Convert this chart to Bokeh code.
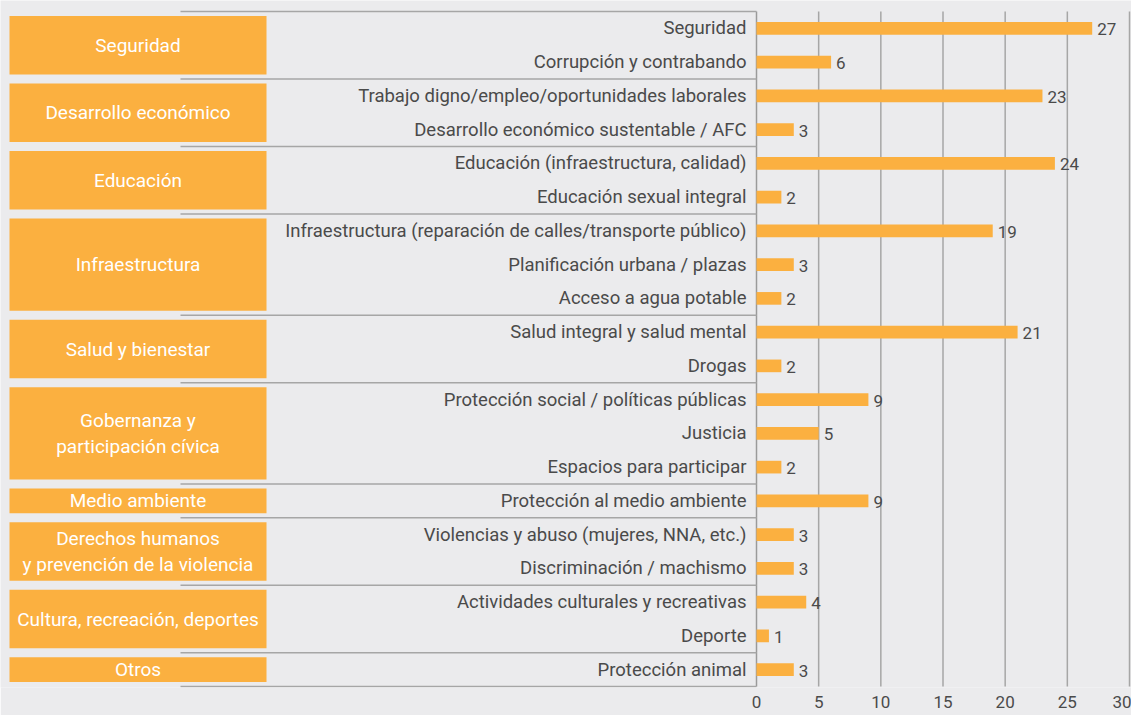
from bokeh.plotting import figure
from bokeh.models import Range1d, FixedTicker, ColumnDataSource, LinearAxis
from bokeh.core.properties import value
from bokeh.embed import file_html
from bokeh.resources import INLINE

# ---------------- data ----------------
categories = [
    "Seguridad",
    "Corrupción y contrabando",
    "Trabajo digno/empleo/oportunidades laborales",
    "Desarrollo económico sustentable / AFC",
    "Educación (infraestructura, calidad)",
    "Educación sexual integral",
    "Infraestructura (reparación de calles/transporte público)",
    "Planificación urbana / plazas",
    "Acceso a agua potable",
    "Salud integral y salud mental",
    "Drogas",
    "Protección social / políticas públicas",
    "Justicia",
    "Espacios para participar",
    "Protección al medio ambiente",
    "Violencias y abuso (mujeres, NNA, etc.)",
    "Discriminación / machismo",
    "Actividades culturales y recreativas",
    "Deporte",
    "Protección animal",
]
values = [27, 6, 23, 3, 24, 2, 19, 3, 2, 21, 2, 9, 5, 2, 9, 3, 3, 4, 1, 3]

group_names = [
    "Seguridad",
    "Desarrollo económico",
    "Educación",
    "Infraestructura",
    "Salud y bienestar",
    "Gobernanza y\nparticipación cívica",
    "Medio ambiente",
    "Derechos humanos\ny prevención de la violencia",
    "Cultura, recreación, deportes",
    "Otros",
]
group_sizes = [2, 2, 2, 3, 2, 3, 1, 2, 2, 1]

x_ticks = [0, 5, 10, 15, 20, 25, 30]

# ---------------- style / layout ----------------
BG = "#ebebed"
ORANGE = "#fbb040"
LINE = "#a6a6a6"
TEXT = "#4a4a4a"
FONT = "Roboto"

W, H = 1131, 715
X0_PX = 756.0                       # x pixel of value 0
SCALE = (1129.0 - 756.0) / 30.0     # px per unit
ROW_PX = 33.75
TOP_PX = 11.0
AXIS_BOTTOM = 28


def px2x(px):
    return (px - X0_PX) / SCALE


frame_bottom = H - AXIS_BOTTOM

p = figure(
    width=W, height=H,
    output_backend="svg", toolbar_location=None,
    x_range=Range1d(px2x(0), px2x(W)),
    y_range=Range1d((frame_bottom - TOP_PX) / ROW_PX, -TOP_PX / ROW_PX),
    x_axis_type=None, y_axis_type=None,
    min_border_left=0, min_border_right=0, min_border_top=0,
    min_border_bottom=AXIS_BOTTOM,
)
p.background_fill_color = BG
p.border_fill_color = BG
p.outline_line_color = None
p.grid.visible = False

n = len(categories)
rows = [i + 0.5 for i in range(n)]

# group boundaries
bounds = [0]
for s in group_sizes:
    bounds.append(bounds[-1] + s)

# vertical grid lines + axis line
p.segment(x0=x_ticks[1:], x1=x_ticks[1:], y0=[0] * (len(x_ticks) - 1), y1=[n] * (len(x_ticks) - 1),
          line_color=LINE, line_width=1.5)
p.segment(x0=[0], x1=[0], y0=[0], y1=[n], line_color="#9a9a9a", line_width=1.5)

# horizontal separators
p.segment(x0=[px2x(180)] * len(bounds), x1=[0] * len(bounds), y0=bounds, y1=bounds,
          line_color=LINE, line_width=1.5)

# group boxes
inset = 4.5 / ROW_PX
gsrc = ColumnDataSource(dict(
    top=[b + inset for b in bounds[:-1]],
    bottom=[b - inset for b in bounds[1:]],
    mid=[(a + b) / 2 for a, b in zip(bounds[:-1], bounds[1:])],
    name=group_names,
))
p.quad(left=px2x(9), right=px2x(266), top="top", bottom="bottom", source=gsrc,
       fill_color=ORANGE, line_color=None)
p.text(x=px2x(137.5), y="mid", text="name", source=gsrc,
       text_align="center", text_baseline="middle", text_color="white",
       text_font=value(FONT), text_font_size="19px", text_line_height=1.1)

# bars
src = ColumnDataSource(dict(y=rows, v=values, cat=categories, lab=[str(v) for v in values]))
p.hbar(y="y", left=0, right="v", height=0.375, source=src, fill_color=ORANGE, line_color=None)

# row labels
p.text(x=0, y="y", text="cat", source=src, x_offset=-10,
       text_align="right", text_baseline="middle", text_color=TEXT,
       text_font=value(FONT), text_font_size="18.5px")

# value labels
p.text(x="v", y="y", text="lab", source=src, x_offset=5, y_offset=1,
       text_align="left", text_baseline="middle", text_color=TEXT,
       text_font=value(FONT), text_font_size="17px")

# x axis (tick labels only)
ax = LinearAxis(ticker=FixedTicker(ticks=x_ticks))
ax.axis_line_color = None
ax.major_tick_line_color = None
ax.minor_tick_line_color = None
ax.major_tick_out = 0
ax.major_tick_in = 0
ax.major_label_standoff = 8
ax.major_label_text_font = FONT
ax.major_label_text_font_size = "17px"
ax.major_label_text_color = TEXT
p.add_layout(ax, "below")

html = file_html(p, INLINE)
html = html.replace("<body>", '<body style="background-color:%s;">' % BG, 1)
open("out.html", "w").write(html)
